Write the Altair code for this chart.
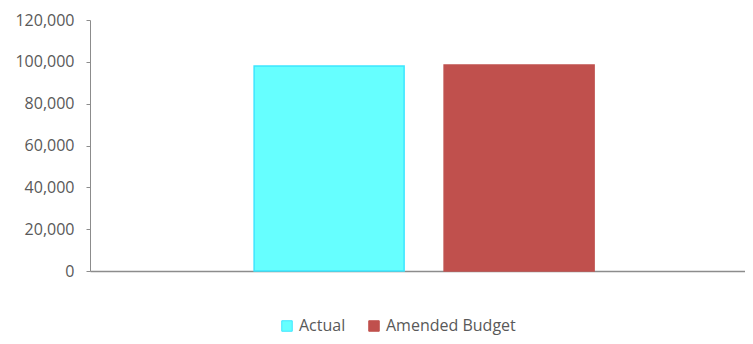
import altair as alt
import pandas as pd

series = ["Actual", "Amended Budget"]
values = [98000, 98500]
fills = ["#66FFFF", "#C0504D"]
strokes = ["#3DE6FF", "#C0504D"]
y_ticks = [0, 20000, 40000, 60000, 80000, 100000, 120000]

df = pd.DataFrame({"series": series, "value": values})

font = "Open Sans"

chart = alt.Chart(df).mark_bar(strokeWidth=1.5).encode(
    x=alt.X("series:N", sort=series,
            scale=alt.Scale(paddingInner=0.2105, paddingOuter=0.829, align=0.521),
            axis=alt.Axis(labels=False, ticks=False, title=None, domainColor="#8C8C8C",
                          domainWidth=1.5)),
    y=alt.Y("value:Q", scale=alt.Scale(domain=[0, 120000]),
            axis=alt.Axis(values=y_ticks, format=",d", title=None, grid=False,
                          domainColor="#8C8C8C", tickColor="#8C8C8C", tickSize=4,
                          labelColor="#595959", labelFont=font, labelFontSize=16,
                          labelPadding=12)),
    color=alt.Color("series:N", sort=series,
                    scale=alt.Scale(domain=series, range=fills),
                    legend=alt.Legend(title=None, orient="none", legendX=189, legendY=298,
                                      direction="horizontal", symbolType="square",
                                      symbolSize=110, labelFont=font, labelFontSize=16,
                                      labelColor="#595959", columnPadding=20,
                                      labelOffset=4, symbolStrokeWidth=1)),
    stroke=alt.Stroke("series:N", sort=series,
                      scale=alt.Scale(domain=series, range=strokes), legend=None),
).properties(
    width=655, height=251,
    autosize=alt.AutoSizeParams(type="none"),
    padding={"left": 82, "top": 12, "right": 0, "bottom": 65},
).configure_view(stroke=None)

chart.save("out.html", embed_options={"renderer": "svg", "actions": False})
